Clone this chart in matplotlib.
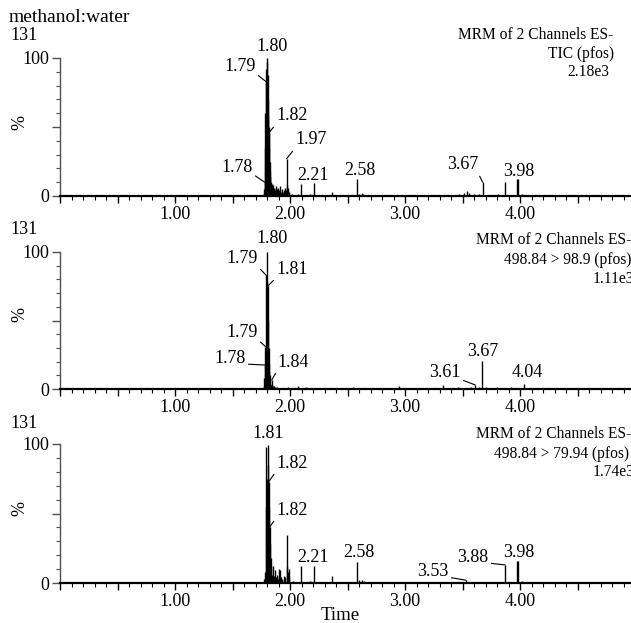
import matplotlib
matplotlib.use("Agg")
import matplotlib.pyplot as plt
from matplotlib.ticker import MultipleLocator, FuncFormatter

plt.rcParams['font.family'] = ['Liberation Serif', 'DejaVu Serif']

# ---------------- data ----------------
sample_name = "methanol:water"
ion_count = ["131", "131", "131"]
x_label = "Time"
y_label = "%"
x_tick_values = [1.0, 2.0, 3.0, 4.0]

header1 = ["MRM of 2 Channels ES-", "TIC (pfos)", "2.18e3"]
header2 = ["MRM of 2 Channels ES-", "498.84 > 98.9 (pfos)", "1.11e3"]
header3 = ["MRM of 2 Channels ES-", "498.84 > 79.94 (pfos)", "1.74e3"]

# Panel 1 (TIC) spikes: retention time (min), relative intensity (%)
p1_rt = [0.08, 0.21, 0.35, 0.52, 0.66, 0.81, 0.95, 1.12, 1.27, 1.41, 1.55, 1.68,
         1.772, 1.776, 1.780, 1.783, 1.786, 1.790, 1.793, 1.797, 1.800, 1.803, 1.806,
         1.809, 1.812, 1.815, 1.818, 1.821, 1.824, 1.827, 1.830, 1.834, 1.838,
         1.843, 1.849, 1.855, 1.862, 1.868, 1.875, 1.882, 1.890, 1.897, 1.905, 1.912,
         1.920, 1.930, 1.940, 1.950, 1.958, 1.965, 1.970, 1.975, 1.980, 1.986, 1.992,
         2.02, 2.05, 2.07, 2.097, 2.13, 2.17, 2.212, 2.25, 2.30, 2.365, 2.40, 2.45,
         2.50, 2.55, 2.583, 2.60, 2.625, 2.635, 2.68, 2.74, 2.82, 2.88, 2.95, 3.02,
         3.08, 3.15, 3.22, 3.29, 3.36, 3.42, 3.47, 3.51, 3.535, 3.56, 3.60, 3.64,
         3.675, 3.71, 3.76, 3.81, 3.87, 3.91, 3.95, 3.976, 3.982, 4.02, 4.07, 4.13,
         4.20, 4.28, 4.36, 4.45, 4.52, 4.60, 4.68, 4.76, 4.85, 4.93]
p1_int = [0.5, 0.6, 0.5, 0.7, 0.5, 0.6, 0.5, 0.7, 0.5, 0.6, 0.5, 0.8,
          2, 5, 10, 35, 60, 83, 92, 100, 85, 97, 88,
          70, 58, 50, 46, 35, 25, 18, 14, 10, 8,
          9, 8, 5, 6, 4, 7, 6, 5, 6, 4, 7,
          3, 5, 3, 4, 6, 4, 27, 8, 6, 4, 3,
          1.2, 1, 1.5, 9, 1, 1.2, 9.5, 1, 0.8, 3, 1, 0.8,
          1, 0.8, 12, 1.5, 2, 1.5, 0.8, 0.6, 0.7, 0.6, 0.8, 0.6,
          0.7, 0.6, 0.5, 0.7, 0.8, 1, 1.2, 2.5, 3.5, 2, 1.5, 1.5,
          10, 1, 1, 1.5, 10, 1, 1, 12.5, 12, 1.5, 0.8, 0.6,
          0.8, 0.6, 0.7, 0.6, 0.8, 0.6, 0.7, 0.6, 0.7, 0.6]
p1_labels = ["1.80", "1.79", "1.82", "1.97", "1.78", "2.21", "2.58", "3.67", "3.98"]
p1_label_rt = [1.797, 1.790, 1.818, 1.970, 1.780, 2.212, 2.583, 3.675, 3.976]
p1_label_int = [100, 83, 46, 27, 10, 9.5, 12, 10, 12.5]

# Panel 2 (498.84 > 98.9)
p2_rt = [0.06, 0.14, 0.22, 0.30, 0.38, 0.46, 0.55, 0.63, 0.71, 0.80, 0.88, 0.96,
         1.05, 1.13, 1.21, 1.30, 1.38, 1.46, 1.55, 1.63, 1.71,
         1.772, 1.777, 1.780, 1.783, 1.786, 1.789, 1.793, 1.797, 1.800, 1.803, 1.806,
         1.810, 1.814, 1.818, 1.822, 1.826, 1.830, 1.835, 1.840, 1.845, 1.852, 1.86,
         1.87, 1.89, 1.93, 1.98, 2.03, 2.07, 2.10, 2.14, 2.20, 2.26, 2.33, 2.40, 2.47,
         2.55, 2.62, 2.70, 2.78, 2.86, 2.95, 3.02, 3.10, 3.18, 3.26, 3.33, 3.40, 3.46,
         3.52, 3.57, 3.61, 3.64, 3.672, 3.70, 3.74, 3.80, 3.86, 3.92, 3.97, 4.035,
         4.08, 4.14, 4.21, 4.29, 4.37, 4.45, 4.53, 4.61, 4.70, 4.78, 4.87, 4.95]
p2_int = [0.8, 0.6, 0.9, 0.7, 1.0, 0.7, 0.9, 0.6, 1.0, 0.7, 0.9, 0.6,
          1.0, 0.7, 0.9, 0.6, 1.0, 0.7, 0.9, 0.7, 1.0,
          2, 8, 17.5, 6, 31, 22, 83, 100, 55, 78, 75,
          50, 30, 18, 10, 6, 4, 3, 6.5, 3, 2.5, 2,
          1.5, 1.5, 1, 1.2, 1, 2, 1, 1.5, 1, 0.8, 1, 0.8, 1,
          1.2, 1, 0.8, 1, 0.8, 2, 0.8, 1, 0.8, 1, 3, 1, 1.5,
          1, 1.5, 3, 1.5, 20.7, 1.5, 1, 1.5, 1, 1.2, 1, 4,
          1, 0.8, 1, 0.8, 1, 0.8, 1, 0.8, 1, 0.8, 1, 0.8]
p2_labels = ["1.80", "1.79", "1.81", "1.79", "1.78", "1.84", "3.61", "3.67", "4.04"]
p2_label_rt = [1.797, 1.793, 1.806, 1.786, 1.780, 1.840, 3.61, 3.672, 4.035]
p2_label_int = [100, 83, 75, 31, 17.5, 6.5, 3, 20.7, 4]

# Panel 3 (498.84 > 79.94)
p3_rt = [0.07, 0.18, 0.29, 0.40, 0.51, 0.62, 0.73, 0.84, 0.95, 1.06, 1.17, 1.28,
         1.39, 1.50, 1.61, 1.70,
         1.778, 1.783, 1.788, 1.792, 1.796, 1.800, 1.804, 1.808, 1.812, 1.816, 1.820,
         1.824, 1.828, 1.832, 1.836, 1.840,
         1.853, 1.860, 1.868, 1.876, 1.884, 1.892, 1.900, 1.906, 1.912, 1.920, 1.930,
         1.945, 1.958, 1.970, 1.976, 1.982, 1.988, 1.994, 2.03, 2.06, 2.098, 2.14,
         2.17, 2.212, 2.26, 2.30, 2.365, 2.42, 2.48, 2.53, 2.583, 2.60, 2.625, 2.64,
         2.70, 2.78, 2.86, 2.94, 3.02, 3.10, 3.18, 3.26, 3.34, 3.42, 3.48, 3.53,
         3.58, 3.64, 3.70, 3.76, 3.82, 3.872, 3.92, 3.976, 3.981, 4.02, 4.08, 4.16,
         4.25, 4.34, 4.43, 4.52, 4.61, 4.70, 4.79, 4.88, 4.96]
p3_int = [0.6, 0.8, 0.6, 0.7, 0.6, 0.8, 0.6, 0.7, 0.6, 0.8, 0.6, 0.7,
          0.6, 0.8, 0.6, 0.7,
          3, 8, 98, 55, 35, 60, 75, 99.5, 85, 73, 55,
          40.5, 28, 18, 12, 6,
          12, 5, 9, 4, 6, 3, 10, 5, 9, 4, 3,
          5, 4, 34.5, 12, 8, 10, 4, 1.5, 1, 12, 1,
          1.5, 12, 1, 1, 5, 1, 0.8, 1, 15, 2, 2.5, 1.5,
          0.8, 0.7, 0.8, 0.6, 0.8, 0.6, 0.8, 0.7, 0.8, 1, 1, 2,
          1, 0.8, 1, 0.8, 1, 13, 1, 16, 15.5, 1.5, 0.8, 0.7,
          0.8, 0.6, 0.8, 0.6, 0.8, 0.6, 0.7, 0.6, 0.7]
p3_labels = ["1.81", "1.82", "1.82", "2.21", "2.58", "3.53", "3.88", "3.98"]
p3_label_rt = [1.808, 1.816, 1.824, 2.212, 2.583, 3.53, 3.872, 3.976]
p3_label_int = [99.5, 73, 40.5, 12, 15, 2, 13, 16]

# ---------------- layout ----------------
W, H = 631, 623
LBL_FS = 13
fig = plt.figure(figsize=(W / 100, H / 100), dpi=100)

def fx(px):
    return px / W

def fy(py):
    return 1 - py / H

# label text positions (data coords) and whether a leader line is drawn
p1_pos = [(1.843, 108), (1.565, 94), (2.017, 58), (2.183, 40.6), (1.539, 21),
          (2.20, 15.2), (2.609, 18.8), (3.504, 22.5), (3.991, 18.1)]
p1_lead = [False, True, True, True, True, False, False, True, False]
p2_pos = [(1.843, 109.5), (1.583, 94.9), (2.017, 86.9), (1.583, 41.6), (1.478, 22.6),
          (2.026, 19.7), (3.348, 11.7), (3.678, 27.7), (4.061, 11.7)]
p2_lead = [False, True, True, True, True, True, True, False, False]
p3_pos = [(1.809, 107.9), (2.017, 86.3), (2.017, 52.5), (2.20, 18.7), (2.60, 21.6),
          (3.243, 8.6), (3.591, 18.7), (3.991, 21.6)]
p3_lead = [False, True, True, False, False, True, True, False]

panels = [
    dict(rt=p1_rt, inten=p1_int, labels=p1_labels, lrt=p1_label_rt, lint=p1_label_int,
         pos=p1_pos, lead=p1_lead, y0=196, y100=58, header=header1,
         hx=[458, 548, 567], hy=[35, 54, 72], cnt_y=36, pct_y=123),
    dict(rt=p2_rt, inten=p2_int, labels=p2_labels, lrt=p2_label_rt, lint=p2_label_int,
         pos=p2_pos, lead=p2_lead, y0=389, y100=252, header=header2,
         hx=[476, 504, 593], hy=[240, 260, 279], cnt_y=230, pct_y=315),
    dict(rt=p3_rt, inten=p3_int, labels=p3_labels, lrt=p3_label_rt, lint=p3_label_int,
         pos=p3_pos, lead=p3_lead, y0=583, y100=444, header=header3,
         hx=[476, 494, 593], hy=[434, 454, 472], cnt_y=423, pct_y=508),
]

X0_PX = 60      # pixel of t = 0
PX_PER_MIN = 115
XMAX = 5.0

def xfmt(v, pos):
    for t in x_tick_values:
        if abs(v - t) < 1e-6:
            return f"{t:.2f}"
    return ""

for i, p in enumerate(panels):
    left = fx(X0_PX)
    width = XMAX * PX_PER_MIN / W
    bottom = fy(p['y0'])
    height = (p['y0'] - p['y100']) / H
    ax = fig.add_axes([left, bottom, width, height])
    ax.set_xlim(0, XMAX)
    ax.set_ylim(0, 100)
    ax.vlines(p['rt'], 0, p['inten'], colors='black', linewidth=1.0, clip_on=False)

    for s in ['top', 'right']:
        ax.spines[s].set_visible(False)
    ax.spines['left'].set_color('#505050')
    ax.spines['left'].set_linewidth(1.0)
    ax.spines['bottom'].set_color('black')
    ax.spines['bottom'].set_linewidth(1.6)

    ax.xaxis.set_major_locator(MultipleLocator(0.5))
    ax.xaxis.set_minor_locator(MultipleLocator(0.1))
    ax.xaxis.set_major_formatter(FuncFormatter(xfmt))
    ax.yaxis.set_major_locator(MultipleLocator(50))
    ax.yaxis.set_minor_locator(MultipleLocator(10))
    ax.yaxis.set_major_formatter(FuncFormatter(
        lambda v, pos: f"{v:.0f}" if v in (0, 100) else ""))
    ax.tick_params(axis='x', which='major', direction='out', length=5, width=1.0,
                   pad=2, labelsize=LBL_FS, color='black')
    ax.tick_params(axis='x', which='minor', direction='out', length=3, width=0.8,
                   color='black')
    ax.tick_params(axis='y', which='major', direction='out', length=5.8, width=1.0,
                   pad=2, labelsize=LBL_FS, color='#505050')
    ax.tick_params(axis='y', which='minor', direction='out', length=3, width=0.8,
                   color='#505050')

    for lab, rt, h, (lx, ly), lead in zip(p['labels'], p['lrt'], p['lint'],
                                         p['pos'], p['lead']):
        if lead:
            relx = 0.95 if lx < rt else 0.05
            ax.annotate(lab, xy=(rt, h), xytext=(lx, ly), textcoords='data',
                        ha='center', va='center', fontsize=LBL_FS,
                        annotation_clip=False,
                        arrowprops=dict(arrowstyle='-', color='black', lw=0.8,
                                        shrinkA=0, shrinkB=0, relpos=(relx, 0.15)))
        else:
            ax.annotate(lab, xy=(rt, h), xytext=(lx, ly), textcoords='data',
                        ha='center', va='center', fontsize=LBL_FS,
                        annotation_clip=False)

    for txt, hx, hy in zip(p['header'], p['hx'], p['hy']):
        fig.text(fx(hx), fy(hy), txt, ha='left', va='center', fontsize=11.2)
    fig.text(fx(10), fy(p['cnt_y']), ion_count[i], ha='left', va='center',
             fontsize=LBL_FS)
    fig.text(fx(20), fy(p['pct_y']), y_label, ha='center', va='center',
             fontsize=LBL_FS, rotation=90)

fig.text(fx(9), fy(17), sample_name, ha='left', va='center', fontsize=14)
fig.text(fx(340), fy(615), x_label, ha='center', va='center', fontsize=13.5)

fig.savefig("out.png", dpi=100)
